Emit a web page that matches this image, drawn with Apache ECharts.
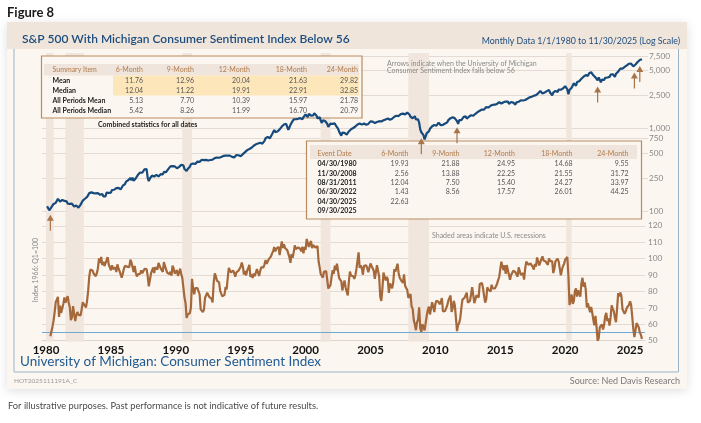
<!DOCTYPE html>
<html><head><meta charset="utf-8">
<script src="https://cdn.jsdelivr.net/npm/echarts@6/dist/echarts.min.js"></script>
<style>html,body{margin:0;padding:0;background:#fff}#c{width:701px;height:423px}</style>
</head><body><div id="c"></div>
<script>
const startYear = 1980;
// S&P 500 month-end, Jan 1980 .. Nov 2025
const spx = [
114.2,113.7,102.1,106.3,111.2,114.2,121.7,122.4,125.5,127.5,140.5,135.8,
129.6,131.3,136.0,132.8,132.6,131.2,130.9,122.8,116.2,121.9,126.4,122.6,
120.4,113.1,112.0,116.4,111.9,109.6,107.1,119.5,120.4,133.7,138.5,140.6,
145.3,148.1,153.0,164.4,162.4,168.1,162.6,164.4,166.1,163.6,166.4,164.9,
163.4,157.1,159.2,160.1,150.6,153.2,150.7,166.7,166.1,166.1,163.6,167.2,
179.6,181.2,180.7,179.8,189.6,191.9,190.9,188.6,182.1,189.8,202.2,211.3,
211.8,226.9,238.9,235.5,247.4,250.8,236.1,252.9,231.3,244.0,249.2,242.2,
274.1,284.2,291.7,288.4,290.1,304.0,318.7,329.8,321.8,251.8,230.3,247.1,
257.1,267.8,258.9,261.3,262.2,273.5,272.0,261.5,271.9,279.0,273.7,277.7,
297.5,288.9,294.9,309.6,320.5,318.0,346.1,351.5,349.2,340.4,346.0,353.4,
329.1,331.9,339.9,330.8,361.2,358.0,356.2,322.6,306.1,304.0,322.2,330.2,
343.9,367.1,375.2,375.4,389.8,371.2,387.8,395.4,387.9,392.5,375.2,417.1,
408.8,412.7,403.7,415.0,415.4,408.1,424.2,414.0,417.8,418.7,431.4,435.7,
438.8,443.4,451.7,440.2,450.2,450.5,448.1,463.6,458.9,467.8,461.8,466.5,
481.6,467.1,445.8,450.9,456.5,444.3,458.3,475.5,462.7,472.4,453.7,459.3,
470.4,487.4,500.7,514.7,533.4,544.8,562.1,561.9,584.4,581.5,605.4,615.9,
636.0,640.4,645.5,654.2,669.1,670.6,640.0,652.0,687.3,705.3,757.0,740.7,
786.2,790.8,757.1,801.3,848.3,885.1,954.3,899.5,947.3,914.6,955.4,970.4,
980.3,1049.3,1101.8,1111.8,1090.8,1133.8,1120.7,957.3,1017.0,1098.7,1163.6,1229.2,
1279.6,1238.3,1286.4,1335.2,1301.8,1372.7,1328.7,1320.4,1282.7,1362.9,1388.9,1469.3,
1394.5,1366.4,1498.6,1452.4,1420.6,1454.6,1430.8,1517.7,1436.5,1429.4,1315.0,1320.3,
1366.0,1239.9,1160.3,1249.5,1255.8,1224.4,1211.2,1133.6,1040.9,1059.8,1139.5,1148.1,
1130.2,1106.7,1147.4,1076.9,1067.1,989.8,911.6,916.1,815.3,885.8,936.3,879.8,
855.7,841.2,848.2,916.9,963.6,974.5,990.3,1008.0,996.0,1050.7,1058.2,1111.9,
1131.1,1144.9,1126.2,1107.3,1120.7,1140.8,1101.7,1104.2,1114.6,1130.2,1173.8,1211.9,
1181.3,1203.6,1180.6,1156.9,1191.5,1191.3,1234.2,1220.3,1228.8,1207.0,1249.5,1248.3,
1280.1,1280.7,1294.9,1310.6,1270.1,1270.2,1276.7,1303.8,1335.9,1377.9,1400.6,1418.3,
1438.2,1406.8,1420.9,1482.4,1530.6,1503.4,1455.3,1474.0,1526.8,1549.4,1481.1,1468.4,
1378.6,1330.6,1322.7,1385.6,1400.4,1280.0,1267.4,1282.8,1166.4,968.8,896.2,903.3,
825.9,735.1,797.9,872.8,919.1,919.3,987.5,1020.6,1057.1,1036.2,1095.6,1115.1,
1073.9,1104.5,1169.4,1186.7,1089.4,1030.7,1101.6,1049.3,1141.2,1183.3,1180.6,1257.6,
1286.1,1327.2,1325.8,1363.6,1345.2,1320.6,1292.3,1218.9,1131.4,1253.3,1247.0,1257.6,
1312.4,1365.7,1408.5,1397.9,1310.3,1362.2,1379.3,1406.6,1440.7,1412.2,1416.2,1426.2,
1498.1,1514.7,1569.2,1597.6,1630.7,1606.3,1685.7,1633.0,1681.6,1756.5,1805.8,1848.4,
1782.6,1859.5,1872.3,1884.0,1923.6,1960.2,1930.7,2003.4,1972.3,2018.1,2067.6,2058.9,
1995.0,2104.5,2067.9,2085.5,2107.4,2063.1,2103.8,1972.2,1920.0,2079.4,2080.4,2043.9,
1940.2,1932.2,2059.7,2065.3,2097.0,2098.9,2173.6,2171.0,2168.3,2126.2,2198.8,2238.8,
2278.9,2363.6,2362.7,2384.2,2411.8,2423.4,2470.3,2471.7,2519.4,2575.3,2647.6,2673.6,
2823.8,2713.8,2640.9,2648.1,2705.3,2718.4,2816.3,2901.5,2914.0,2711.7,2760.2,2506.9,
2704.1,2784.5,2834.4,2945.8,2752.1,2941.8,2980.4,2926.5,2976.7,3037.6,3141.0,3230.8,
3225.5,2954.2,2584.6,2912.4,3044.3,3100.3,3271.1,3500.3,3363.0,3270.0,3621.6,3756.1,
3714.2,3811.2,3972.9,4181.2,4204.1,4297.5,4395.3,4522.7,4307.5,4605.4,4567.0,4766.2,
4515.6,4373.9,4530.4,4131.9,4132.2,3785.4,4130.3,3955.0,3585.6,3872.0,4080.1,3839.5,
4076.6,3970.2,4109.3,4169.5,4179.8,4450.4,4589.0,4507.7,4288.1,4193.8,4567.8,4769.8,
4845.7,5096.3,5254.4,5035.7,5277.5,5460.5,5522.3,5648.4,5762.5,5705.5,6032.4,5881.6,
6040.5,5954.5,5611.9,5569.1,5911.7,6205.0,6339.4,6460.3,6688.5,6840.2,6849.1
];
// University of Michigan Consumer Sentiment, Jan 1980 .. Nov 2025
const umcsi = [
null,null,null,52.7,51.7,58.7,62.3,67.4,73.7,75.0,76.7,64.5,
71.4,66.9,66.5,72.4,76.3,73.1,74.1,77.2,73.1,70.3,62.5,64.3,
71.0,66.5,62.0,65.5,67.5,65.7,65.4,65.4,69.3,73.4,72.1,71.9,
70.4,74.6,80.8,89.1,93.3,92.2,92.8,90.9,89.9,89.3,91.1,94.2,
100.1,97.4,101.0,96.1,98.1,95.5,96.6,99.1,100.9,96.3,95.7,92.9,
96.0,93.7,93.7,94.6,91.8,96.5,94.0,92.4,92.1,88.4,90.9,93.9,
95.6,95.9,95.1,96.2,94.8,99.3,97.7,94.9,91.9,95.6,91.4,89.1,
90.4,90.2,90.8,92.8,91.1,91.5,93.7,94.4,93.6,89.3,83.1,86.8,
90.8,91.6,94.6,91.2,94.8,94.7,93.4,97.4,97.3,94.1,93.0,91.9,
97.9,95.4,94.3,91.5,90.7,90.6,92.0,89.6,95.8,93.9,90.9,90.5,
93.0,89.5,91.3,93.9,90.6,88.3,88.2,76.4,72.8,63.9,66.0,65.5,
66.8,70.4,87.7,81.8,78.3,82.1,82.9,82.0,83.0,78.3,69.1,68.2,
67.5,68.8,76.0,77.2,79.2,80.4,76.6,76.1,75.6,73.3,85.3,91.0,
89.3,86.6,85.9,85.6,80.3,81.5,77.0,77.3,77.9,82.7,81.2,88.2,
94.3,93.2,91.5,92.6,92.8,91.2,89.0,91.7,91.5,92.7,91.6,95.1,
97.6,95.1,90.3,92.5,89.8,92.7,94.4,96.2,88.9,90.2,88.2,91.0,
89.3,88.5,93.7,92.7,89.4,92.4,94.7,95.3,94.7,96.5,99.2,96.9,
97.4,99.7,100.0,101.4,103.2,104.5,107.1,104.4,106.0,105.6,107.2,102.1,
106.6,110.4,106.5,108.7,106.5,105.6,105.2,104.4,100.9,97.4,102.7,100.5,
103.9,108.1,105.7,104.6,106.8,107.3,106.0,104.5,107.2,103.2,107.2,105.4,
112.0,111.3,107.1,109.2,110.7,106.4,108.3,107.3,106.8,105.8,107.6,98.4,
94.7,90.6,91.5,88.4,92.0,92.6,92.4,91.5,81.8,82.7,83.9,88.8,
93.0,90.7,95.7,93.0,96.9,92.4,88.1,87.6,86.1,80.6,84.2,86.7,
82.4,79.9,77.6,86.0,92.1,89.7,90.9,89.3,87.7,89.6,93.7,92.6,
103.8,94.4,95.8,94.2,90.2,95.6,96.7,95.9,94.2,91.7,92.8,97.1,
95.5,94.1,92.6,87.7,86.9,96.0,96.5,89.1,76.9,74.2,81.6,91.5,
91.2,86.7,88.9,87.4,79.1,84.9,84.7,82.0,85.4,93.6,92.1,91.7,
96.9,91.3,88.4,87.1,88.3,85.3,90.4,83.4,83.4,80.9,76.1,75.5,
78.4,70.8,69.5,62.6,59.8,56.4,61.2,63.0,70.3,57.6,55.3,60.1,
61.2,56.3,57.3,65.1,68.7,70.8,66.0,65.7,73.5,70.6,67.4,72.5,
74.4,73.6,73.6,72.2,73.6,76.0,67.8,68.9,68.2,67.7,71.6,74.5,
74.2,77.5,67.5,69.8,74.3,71.5,63.7,55.8,59.5,60.8,63.7,69.9,
75.0,75.3,76.2,76.4,79.3,73.2,72.3,74.3,78.3,82.6,82.7,72.9,
73.8,77.6,78.6,76.4,84.5,84.1,85.1,82.1,77.5,73.2,75.1,82.5,
81.2,81.6,80.0,84.1,81.9,82.5,81.8,82.5,84.6,86.9,88.8,93.6,
98.1,95.4,93.0,95.9,90.7,96.1,93.1,91.9,87.2,90.0,91.3,92.6,
92.0,91.7,91.0,89.0,94.7,93.5,90.0,89.8,91.2,87.2,93.8,98.2,
98.5,96.3,96.9,97.0,97.1,95.0,93.4,96.8,95.1,100.7,98.5,95.9,
95.7,99.7,101.4,98.8,98.0,98.2,97.9,96.2,100.1,98.6,97.5,98.3,
91.2,93.8,98.4,97.2,100.0,98.2,98.4,89.8,93.2,95.5,96.8,99.3,
99.8,101.0,89.1,71.8,72.3,78.1,72.5,74.1,80.4,81.8,76.9,80.7,
79.0,76.8,84.9,88.3,82.9,85.5,81.2,70.3,72.8,71.7,67.4,70.6,
67.2,62.8,59.4,65.2,58.4,50.0,51.5,58.2,58.6,59.9,56.8,59.7,
64.9,67.0,62.0,63.5,59.2,64.2,71.5,69.4,67.9,63.8,61.3,69.7,
79.0,76.9,79.4,77.2,69.1,68.2,66.4,67.9,70.1,70.5,71.8,74.0,
71.7,64.7,57.0,52.2,52.2,60.7,61.7,58.2,55.1,53.6,51.0
];
const recessions = [['1980-01','1980-07'],['1981-07','1982-11'],['1990-07','1991-03'],['2001-03','2001-11'],['2007-12','2009-06'],['2020-02','2020-06']];
const yearLabels = [1980,1985,1990,1995,2000,2005,2010,2015,2020,2025];
const spxTicks = [100,250,500,750,1000,2500,5000,7500];
const sentimentThreshold = 55;
const eventDates = ['04/30/1980','11/30/2008','08/31/2011','06/30/2022','04/30/2025','09/30/2025'];
const periodHeaders = ['6-Month','9-Month','12-Month','18-Month','24-Month'];
const ev6  = ['19.93','2.56','12.04','1.43','22.63',''];
const ev9  = ['21.88','13.88','7.50','8.56','',''];
const ev12 = ['24.95','22.25','15.40','17.57','',''];
const ev18 = ['14.68','21.55','24.27','26.01','',''];
const ev24 = ['9.55','31.72','33.97','44.25','',''];
const summaryLabels = ['Mean','Median','All Periods Mean','All Periods Median'];
const sumMean   = ['11.76','12.96','20.04','21.63','29.82'];
const sumMedian = ['12.04','11.22','19.91','22.91','32.85'];
const allMean   = ['5.13','7.70','10.39','15.97','21.78'];
const allMedian = ['5.42','8.26','11.99','16.70','20.79'];

const xOf = i => startYear + (i + 1) / 12;
const ym = s => { const [y, m] = s.split('-').map(Number); return y + (m - 1) / 12; };
const ymEnd = s => { const [y, m] = s.split('-').map(Number); return y + m / 12; };
const spxData = spx.map((v, i) => [xOf(i), v]);
const umData = umcsi.map((v, i) => [xOf(i), v]);
const arrowPts = eventDates.map(d => {
  const [m, dd, y] = d.split('/').map(Number);
  const i = (y - startYear) * 12 + (m - 1);
  return { coord: [xOf(i), spx[i]] };
});

const F = 'Lato, "Open Sans", sans-serif';
const XMIN = 1979.69, XMAX = 2026.15;
const gridL = 42, gridR = 701 - 645;
const gridColor = '#e3dbd3';
const navy = '#174a7c', brown = '#a4683a';

// graphic elements
const G = [];
const txt = (x, y, text, font, fill, align, extra) => G.push(Object.assign({
  type: 'text', x, y, z: 3,
  style: { text, font, fill, align: align || 'left', verticalAlign: 'middle', textAlign: align || 'left', textVerticalAlign: 'middle' }
}, extra || {}));
const rect = (x, y, w, h, style, z) => G.push({ type: 'rect', z: z == null ? 3 : z, shape: { x, y, width: w, height: h }, style });

// panel
rect(7, 22, 680, 367, { fill: '#fbf6f0', shadowBlur: 10, shadowColor: 'rgba(0,0,0,0.13)', shadowOffsetY: 2 }, -10);
rect(7, 22, 680, 27, { fill: '#f0e5db' }, -9);
G.push({ type: 'polyline', z: -8, shape: { points: [[14, 49], [14, 372], [678.5, 372], [678.5, 49]] }, style: { stroke: '#9db3c7', lineWidth: 1, fill: null } });
txt(7, 13, 'Figure 8', 'bold 13px ' + F, '#1a1a1a');
txt(22, 39, 'S&P 500 With Michigan Consumer Sentiment Index Below 56', '600 12px ' + F, '#1c4d7e');
txt(680, 41, 'Monthly Data 1/1/1980 to 11/30/2025 (Log Scale)', '8.8px ' + F, '#1c4d7e', 'right');
txt(20, 362, 'University of Michigan: Consumer Sentiment Index', '13.5px ' + F, '#1f5a92');
txt(14, 381, 'HOT2025111191A_C', '6.5px ' + F, '#9a9a9a');
txt(680, 381, 'Source: Ned Davis Research', '9px ' + F, '#7a7a7a', 'right');
txt(8, 406, 'For illustrative purposes. Past performance is not indicative of future results.', '9.3px ' + F, '#4a4a4a');
txt(36, 270, 'Index 1966: Q1=100', '7px ' + F, '#8a8a8a', 'center', { rotation: Math.PI / 2 });
txt(387, 64, 'Arrows indicate when the University of Michigan', '7px ' + F, '#8a8a8a');
txt(387, 71, 'Consumer Sentiment Index falls below 56', '7px ' + F, '#8a8a8a');
txt(432, 236, 'Shaded areas indicate U.S. recessions', '7px ' + F, '#8a8a8a');

// Table 1
const tb = '#b98b61', hdr = '#efe5dc', hdrTxt = '#b27b4c', numTxt = '#575757', lblTxt = '#222';
rect(41.5, 56, 320.5, 62, { fill: '#fbf6f0', stroke: tb, lineWidth: 1.2 });
rect(44, 64, 315, 11.5, { fill: hdr });
rect(113, 75.5, 246, 20, { fill: '#fde6b9' });
const t1Cols = [143, 194, 250, 307, 358];
txt(52.5, 70, 'Summary Item', '7px ' + F, hdrTxt);
periodHeaders.forEach((h, j) => txt(t1Cols[j], 70, h, '7px ' + F, hdrTxt, 'right'));
const t1Rows = [sumMean, sumMedian, allMean, allMedian];
t1Rows.forEach((row, r) => {
  const y = 80.5 + r * 10.2;
  txt(52.5, y, summaryLabels[r], 'bold 7px ' + F, lblTxt);
  row.forEach((v, j) => txt(t1Cols[j], y, v, '7px ' + F, numTxt, 'right'));
});
txt(98, 125, 'Combined statistics for all dates', 'bold 7px ' + F, lblTxt);

// Table 2
rect(306.5, 141, 335, 78, { fill: '#fbf6f0', stroke: tb, lineWidth: 1.2 });
rect(310, 145, 327, 14, { fill: hdr });
const t2Cols = [408.5, 459.5, 515, 572.5, 628.5];
txt(317.5, 154, 'Event Date', '7px ' + F, hdrTxt);
periodHeaders.forEach((h, j) => txt(t2Cols[j], 154, h, '7px ' + F, hdrTxt, 'right'));
const evCols = [ev6, ev9, ev12, ev18, ev24];
eventDates.forEach((d, r) => {
  const y = 164 + r * 9.33;
  txt(317.5, y, d, 'bold 7px ' + F, lblTxt);
  evCols.forEach((col, j) => { if (col[r]) txt(t2Cols[j], y, col[r], '7px ' + F, numTxt, 'right'); });
});

const chart = echarts.init(document.getElementById('c'), null, { renderer: 'canvas' });
chart.setOption({
  animation: false,
  backgroundColor: '#ffffff',
  graphic: { elements: G },
  grid: [
    { left: gridL, right: gridR, top: 53.6, height: 161.2 },
    { left: gridL, right: gridR, top: 225.8, height: 114.9 },
    { left: gridL, right: gridR, top: 53, height: 288.7 }
  ],
  xAxis: [
    { gridIndex: 0, type: 'value', min: XMIN, max: XMAX, show: false, splitLine: { show: false } },
    { gridIndex: 1, type: 'value', min: XMIN, max: XMAX,
      axisLine: { show: true, lineStyle: { color: '#ddd5cd', width: 1 } },
      axisTick: { show: false }, splitLine: { show: false },
      axisLabel: { customValues: yearLabels, formatter: v => String(Math.round(v)), color: '#111', fontFamily: F, fontWeight: 'bold', fontSize: 11.5, margin: 4 } },
    { gridIndex: 2, type: 'value', min: XMIN, max: XMAX, show: false, splitLine: { show: false } }
  ],
  yAxis: [
    { gridIndex: 0, type: 'log', logBase: 10, min: 90, max: 8000, position: 'right',
      axisLine: { show: false },
      axisTick: { show: true, length: 3, customValues: spxTicks, lineStyle: { color: gridColor } },
      splitLine: { show: true, lineStyle: { color: gridColor, width: 1 } },
      axisLabel: { customValues: spxTicks, formatter: v => Math.round(v).toLocaleString('en-US'), color: '#8a8a8a', fontFamily: F, fontSize: 8.3, margin: 4 } },
    { gridIndex: 1, type: 'value', min: 50, max: 120, interval: 10, position: 'right',
      axisLine: { show: false }, axisTick: { show: false },
      splitLine: { show: true, lineStyle: { color: gridColor, width: 1 } },
      axisLabel: { color: '#8a8a8a', fontFamily: F, fontSize: 8.3, margin: 3 } },
    { gridIndex: 2, type: 'value', min: 0, max: 1, show: false, splitLine: { show: false } }
  ],
  series: [
    { type: 'line', xAxisIndex: 2, yAxisIndex: 2, z: 1, data: [[XMIN, 0]], showSymbol: false, silent: true,
      lineStyle: { opacity: 0 },
      markArea: { silent: true, itemStyle: { color: '#f0e6dd' },
        data: recessions.map(r => [{ xAxis: ym(r[0]) }, { xAxis: ymEnd(r[1]) }]) } },
    { type: 'line', name: 'S&P 500', xAxisIndex: 0, yAxisIndex: 0, z: 5, data: spxData, showSymbol: false,
      lineStyle: { color: navy, width: 2.2 },
      markPoint: { silent: true, symbol: 'path://M3.5,0 L7,6 L4.1,6 L4.1,16 L2.9,16 L2.9,6 L0,6 Z',
        symbolSize: [7, 16], symbolKeepAspect: false, symbolOffset: [0, 14],
        itemStyle: { color: '#a8744a' }, label: { show: false }, data: arrowPts } },
    { type: 'line', name: 'Consumer Sentiment', xAxisIndex: 1, yAxisIndex: 1, z: 5, data: umData, showSymbol: false,
      connectNulls: false, lineStyle: { color: brown, width: 2.2 },
      markLine: { silent: true, symbol: 'none', label: { show: false },
        lineStyle: { color: '#6ea9d6', width: 1.2, type: 'solid' }, data: [{ yAxis: sentimentThreshold }] } }
  ]
});
</script>
</body></html>
